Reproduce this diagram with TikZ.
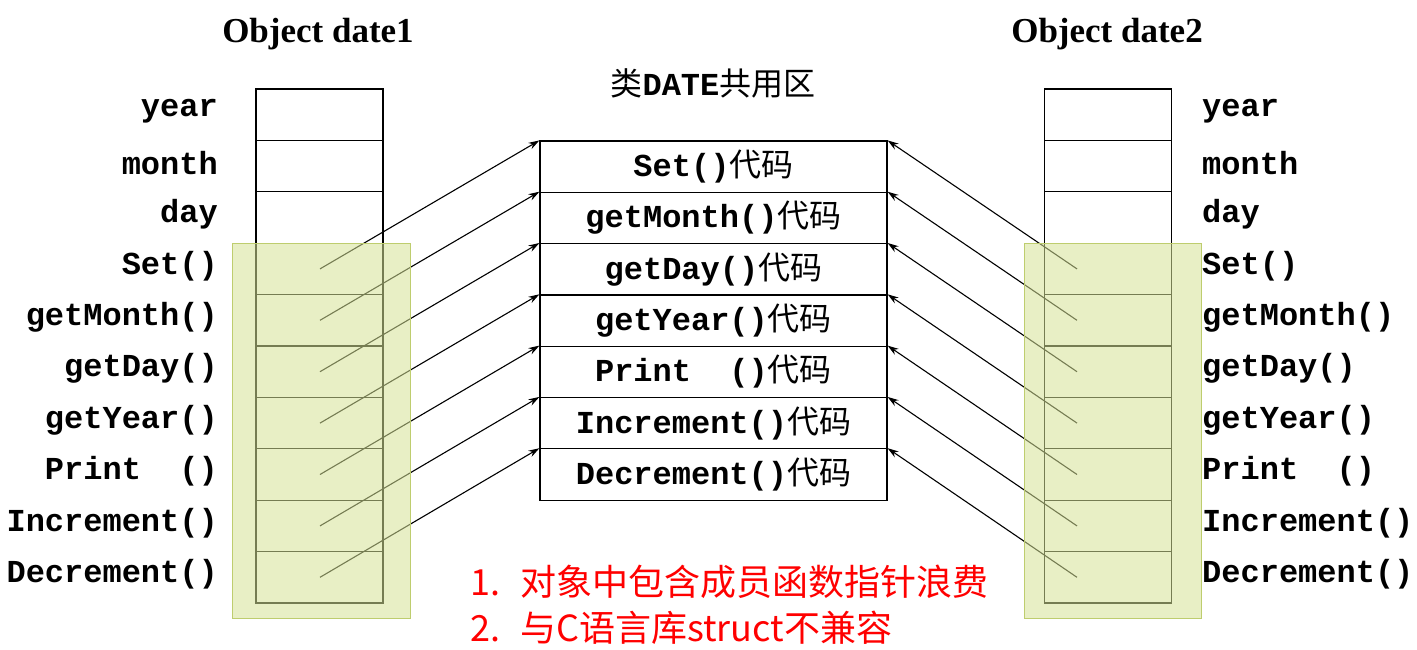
\documentclass[tikz,border=0pt]{standalone}
\usepackage{fontspec}
\setmainfont{Liberation Serif}
\setmonofont{Liberation Mono}
\newfontfamily\cjk{Noto Sans CJK SC}
\usetikzlibrary{arrows.meta}
\definecolor{ovl}{RGB}{214,226,150}
\definecolor{ovb}{RGB}{190,205,110}
\tikzset{x=1pt,y=-1pt,
 cell/.style={draw,line width=1.2pt,minimum width=127pt,minimum height=51.4pt,inner sep=0pt},
 mcell/.style={draw,line width=1.2pt,minimum width=347pt,minimum height=51.3pt,inner sep=0pt,font=\fontsize{32}{34}\selectfont\ttfamily\bfseries},
 lab/.style={font=\fontsize{32}{34}\selectfont\ttfamily\bfseries,inner sep=0pt},
 arr/.style={-{Stealth[length=11pt,width=7pt]},line width=1.1pt},
 ovr/.style={fill=ovl,fill opacity=0.55,draw=ovb,line width=1pt}}
\begin{document}
\begin{tikzpicture}
\useasboundingbox (0,0) rectangle (1417,649);
\node[font=\fontsize{35}{38}\selectfont\bfseries] (t1) at (318,34) {Object date1};
\node[font=\fontsize{35}{38}\selectfont\bfseries] (t2) at (1107,34) {Object date2};
\node[font=\fontsize{32}{34}\selectfont\ttfamily\bfseries] (hd) at (713,83) {{\cjk\mdseries 类}DATE{\cjk\mdseries 共用区}};
\foreach \n [count=\i from 0] in {year,month,day,Set(),getMonth(),getDay(),getYear(),Print~~(),Increment(),Decrement()}{
  \node[cell] (L\i) at (319.5,{89+51.4*(\i+0.5)}) {};
  \node[cell] (R\i) at (1108,{89+51.4*(\i+0.5)}) {};
  \node[lab,anchor=east] (LL\i) at (218,{89+51.4*(\i+0.5)-3}) {\n};
  \node[lab,anchor=west] (RL\i) at (1202,{89+51.4*(\i+0.5)-3}) {\n};
}
\foreach \n [count=\i from 0] in {Set(),getMonth(),getDay(),getYear(),Print~~(),Increment(),Decrement()}{
  \node[mcell] (M\i) at (713.5,{141+51.3*(\i+0.5)}) {\raisebox{3pt}{\n{\cjk\mdseries 代码}}};
  \coordinate (ls\i) at (320,{89+51.4*(\i+3.5)});
  \coordinate (rs\i) at (1077,{89+51.4*(\i+3.5)});
  \draw[arr] (ls\i) -- (M\i.north west);
  \draw[arr] (rs\i) -- (M\i.north east);
}
\node[ovr,minimum width=178pt,minimum height=375pt,inner sep=0pt] (g1) at (321,430.5) {};
\node[ovr,minimum width=177pt,minimum height=375pt,inner sep=0pt] (g2) at (1112.5,430.5) {};
\node[anchor=west,text=red,font=\cjk\fontsize{36}{46}\selectfont,align=left,inner sep=0pt] (note) at (470,605)
 {1.\hspace{20pt}对象中包含成员函数指针浪费\\2.\hspace{20pt}与C语言库struct不兼容};
\end{tikzpicture}
\end{document}
